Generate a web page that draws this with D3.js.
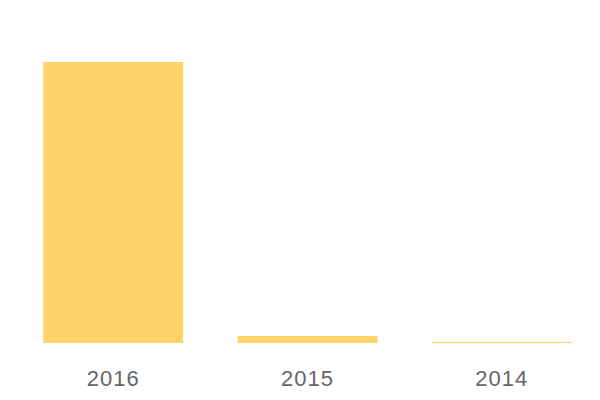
<!DOCTYPE html>
<html>
<head>
<meta charset="utf-8">
<script src="https://cdn.jsdelivr.net/npm/d3@7"></script>
<style>
    body { margin: 0; background: #fff; }
</style>
</head>
<body>
<div id="chart"></div>
<script>
var years = ['2016', '2015', '2014'];
var values = [4000, 100, 15];

var width = 600;
var height = 400;

var svg = d3.select('#chart').append('svg')
    .attr('width', width)
    .attr('height', height);

var xScale = d3.scaleBand()
    .domain(years)
    .range([16, 599])
    .paddingInner(0.28)
    .paddingOuter(0.14);

var yScale = d3.scaleLinear()
    .domain([0, 4000])
    .range([343, 62]);

svg.append('g')
    .selectAll('rect')
    .data(years)
    .enter().append('rect')
    .attr('x', function (d) { return xScale(d); })
    .attr('width', xScale.bandwidth())
    .attr('y', function (d, i) { return yScale(values[i]); })
    .attr('height', function (d, i) { return yScale(0) - yScale(values[i]); })
    .style('fill', '#fed46a');

var xAxis = d3.axisBottom(xScale).tickSize(0).tickPadding(0);

var axisG = svg.append('g')
    .attr('transform', 'translate(0,' + 370 + ')')
    .call(xAxis);

axisG.select('.domain').remove();
axisG.selectAll('text')
    .style('font-family', '"Liberation Sans", Arial, sans-serif')
    .style('font-size', '22px')
    .style('letter-spacing', '1px')
    .style('fill', '#666');
</script>
</body>
</html>
